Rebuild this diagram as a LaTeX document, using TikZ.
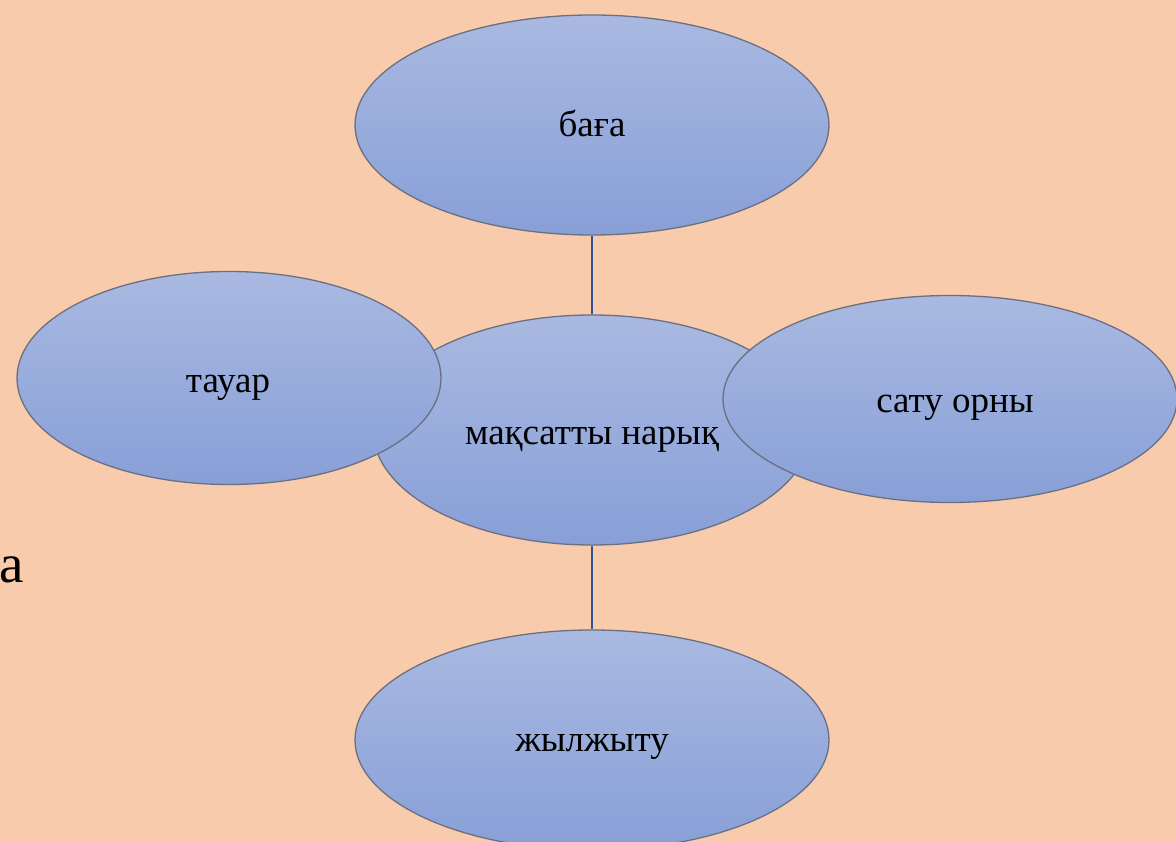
\documentclass[tikz,border=0pt]{standalone}
\usepackage{fontspec}
\setmainfont{Liberation Serif}
\usetikzlibrary{shapes.geometric}
\definecolor{bgpeach}{HTML}{F8CBAD}
\definecolor{elltop}{HTML}{A9B9E1}
\definecolor{ellbot}{HTML}{889FD7}
\definecolor{ellline}{HTML}{6B7080}
\definecolor{conn}{HTML}{2F5597}
\tikzset{
  oval/.style={ellipse, draw=ellline, line width=1.3pt, top color=elltop, bottom color=ellbot,
    inner sep=0pt},
  lbl/.style={anchor=base, inner sep=0pt, font=\fontsize{37}{44}\selectfont, text=black},
  link/.style={draw=conn, line width=1.8pt}
}
\begin{document}
\begin{tikzpicture}[x=1pt,y=-1pt]
\fill[bgpeach] (0,0) rectangle (1176,842);
\useasboundingbox (0,0) rectangle (1176,842);
\node[anchor=base west, inner sep=0pt, font=\fontsize{55}{66}\selectfont] (frag) at (-1,582) {а};
\node[oval, minimum width=474pt, minimum height=220pt] (baga) at (592,125) {};
\node[lbl] (tbaga) at (592,137) {баға};
\node[oval, minimum width=474pt, minimum height=220pt] (zhyl) at (592,740) {};
\node[lbl] (tzhyl) at (592,751) {жылжыту};
\node[oval, minimum width=438pt, minimum height=230pt] (center) at (592,430) {};
\node[lbl] (ctext) at (592,444) {мақсатты нарық};
\draw[link] (baga.south) -- (center.north);
\draw[link] (center.south) -- (zhyl.north);
\node[oval, minimum width=424pt, minimum height=213pt] (tauar) at (229,378) {};
\node[lbl] (ttauar) at (228,392) {тауар};
\node[oval, minimum width=454pt, minimum height=207pt] (satu) at (950,399) {};
\node[lbl] (tsatu) at (955,413) {сату орны};
\end{tikzpicture}
\end{document}
